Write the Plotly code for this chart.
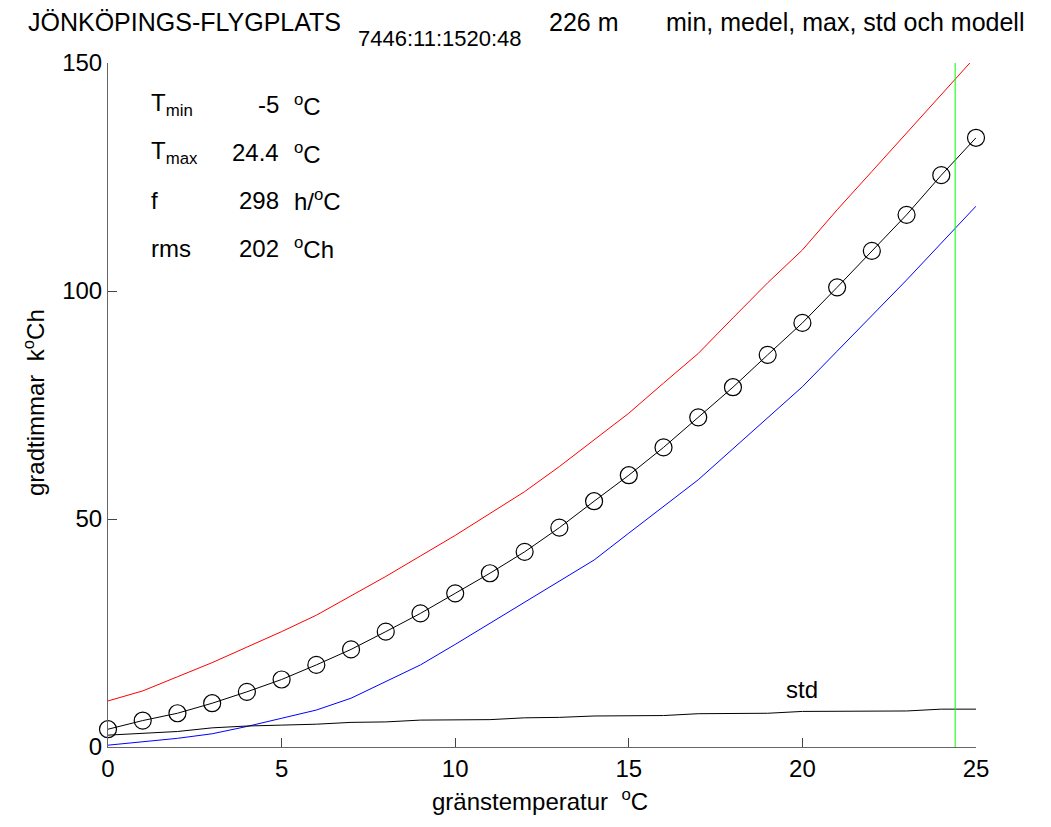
import plotly.graph_objects as go

# ---- data ----
temps = list(range(0, 26))
medel = [3.9, 5.8, 7.4, 9.6, 12.1, 14.8, 18.0, 21.4, 25.3, 29.3, 33.7, 38.1, 42.8,
         48.1, 53.9, 59.6, 65.7, 72.3, 78.9, 86.0, 93.0, 100.8, 108.8, 116.7, 125.4, 133.6]
maxv = [10.1, 12.3, 15.4, 18.5, 21.9, 25.3, 28.9, 33.1, 37.4, 41.9, 46.4, 51.2, 56.0,
        61.5, 67.3, 73.2, 79.8, 86.3, 94.1, 101.8, 109.0, 117.8, 126.2, 134.6, 142.9, 151.5]
minv = [0.4, 1.2, 1.9, 2.9, 4.5, 6.3, 8.1, 10.7, 14.3, 18.0, 22.5, 27.1, 31.7,
        36.4, 41.0, 46.9, 52.8, 58.6, 65.4, 72.2, 79.0, 86.8, 94.6, 102.4, 110.5, 118.6]
stdv = [2.6, 3.0, 3.4, 4.2, 4.6, 4.8, 5.0, 5.4, 5.5, 5.9, 6.0, 6.0, 6.4,
        6.5, 6.8, 6.9, 6.9, 7.3, 7.3, 7.4, 7.8, 7.8, 7.8, 7.9, 8.3, 8.3]
tmax = 24.4

x_ticks = [0, 5, 10, 15, 20, 25]
y_ticks = [0, 50, 100, 150]

info_labels = ["T<sub>min</sub>", "T<sub>max</sub>", "f", "rms"]
info_values = ["-5", "24.4", "298", "202"]
info_units = ["<sup>o</sup>C", "<sup>o</sup>C", "h/<sup>o</sup>C", "<sup>o</sup>Ch"]

FONT = "Arial, Liberation Sans, sans-serif"
FS = 24
OFF = 8  # default page body margin
W, H = 1051 - OFF, 827 - OFF
L, R, T, B = 108 - OFF, 75, 63 - OFF, 80
PW, PH = W - L - R, H - T - B


def px(xp):  # page pixel -> paper
    return (xp - OFF - L) / PW


def py(yp):
    return (H - B - (yp - OFF)) / PH


fig = go.Figure()
fig.add_trace(go.Scatter(x=temps, y=maxv, mode="lines", line=dict(color="#ff0000", width=1)))
fig.add_trace(go.Scatter(x=temps, y=minv, mode="lines", line=dict(color="#0000ff", width=1)))
fig.add_trace(go.Scatter(x=temps, y=stdv, mode="lines", line=dict(color="#000000", width=1)))
fig.add_trace(go.Scatter(x=temps, y=medel, mode="lines+markers", cliponaxis=False,
                         line=dict(color="#000000", width=1),
                         marker=dict(symbol="circle-open", size=17, color="#000000",
                                     line=dict(width=1.2, color="#000000"))))
fig.add_shape(type="line", xref="x", yref="paper", x0=tmax, x1=tmax, y0=0, y1=1,
              line=dict(color="#00ff00", width=1))

ann = []


def add(text, x, y, xa="left", size=FS):
    ann.append(dict(text=text, x=px(x), y=py(y), xref="paper", yref="paper",
                    xanchor=xa, yanchor="middle", showarrow=False,
                    font=dict(family=FONT, size=size, color="black")))


# title pieces
add("JÖNKÖPINGS-FLYGPLATS", 26, 22, size=25)
add("7446:11:1520:48", 356, 38, size=22)
add("226 m", 547, 22, size=25)
add("min, medel, max, std och modell", 664, 22, size=25)

# info block
rows_y = [105, 153, 200, 248]
for lab, val, unit, yy in zip(info_labels, info_values, info_units, rows_y):
    add(lab, 149, yy)
    add(val, 281, yy, xa="right")
    add(unit, 292, yy)

# std label
ann.append(dict(text="std", x=20, y=12.7, xref="x", yref="y", xanchor="center",
                yanchor="middle", showarrow=False,
                font=dict(family=FONT, size=FS, color="black")))

# axis titles
add("gränstemperatur  <sup>o</sup>C", 540, 800, xa="center")
ann.append(dict(text="gradtimmar  k<sup>o</sup>Ch", x=px(34), y=py(403), xref="paper",
                yref="paper", xanchor="center", yanchor="middle", textangle=-90,
                showarrow=False, font=dict(family=FONT, size=FS, color="black")))

fig.update_layout(
    width=W, height=H, margin=dict(l=L, r=R, t=T, b=B, pad=0),
    paper_bgcolor="white", plot_bgcolor="white", showlegend=False,
    font=dict(family=FONT, size=FS, color="black"),
    annotations=ann,
)
fig.update_xaxes(range=[0, 25], tickvals=x_ticks, ticks="inside", ticklen=9,
                 tickcolor="#444", showline=True, linecolor="#666", linewidth=1,
                 showgrid=False, zeroline=False, mirror=False,
                 tickfont=dict(family=FONT, size=FS, color="black"))
fig.update_yaxes(range=[0, 150], tickvals=y_ticks, ticks="inside", ticklen=9,
                 tickcolor="#444", showline=True, linecolor="#666", linewidth=1,
                 showgrid=False, zeroline=False, mirror=False,
                 tickfont=dict(family=FONT, size=FS, color="black"))

fig.write_html("out.html")
